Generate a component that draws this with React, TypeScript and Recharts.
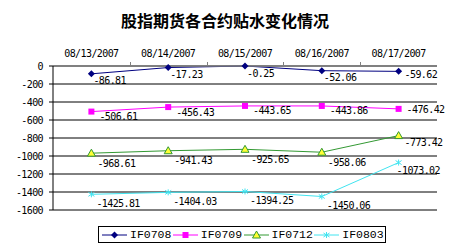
import React from "react";
import * as R from "recharts";
import { LineChart, Line, XAxis, YAxis, CartesianGrid, LabelList } from "recharts";

const dates = ["08/13/2007", "08/14/2007", "08/15/2007", "08/16/2007", "08/17/2007"];
const if0708 = [-86.81, -17.23, -0.25, -52.06, -59.62];
const if0709 = [-506.61, -456.43, -443.65, -443.86, -476.42];
const if0712 = [-968.61, -941.43, -925.65, -958.06, -773.42];
const if0803 = [-1425.81, -1404.03, -1394.25, -1450.06, -1073.02];
const yTicks = [0, -200, -400, -600, -800, -1000, -1200, -1400, -1600];

const data = dates.map((date, i) => ({
  date,
  IF0708: if0708[i],
  IF0709: if0709[i],
  IF0712: if0712[i],
  IF0803: if0803[i],
}));

const MONO = "'DejaVu Sans Mono', monospace";

type Shape = "diamond" | "square" | "triangle" | "star";

const series: {
  key: string;
  color: string;
  shape: Shape;
  dx: number;
  dy: number;
  lastDx: number;
  lastDy: number;
}[] = [
  { key: "IF0708", color: "#000080", shape: "diamond", dx: 2, dy: 7, lastDx: 6, lastDy: 3 },
  { key: "IF0709", color: "#ff00ff", shape: "square", dx: 8, dy: 5, lastDx: 8, lastDy: 1 },
  { key: "IF0712", color: "#339933", shape: "triangle", dx: 6, dy: 10, lastDx: 6, lastDy: 7 },
  { key: "IF0803", color: "#40e4f0", shape: "star", dx: 5, dy: 9, lastDx: -2, lastDy: 8 },
];

function Marker({ shape, x, y, color }: { shape: Shape; x: number; y: number; color: string }) {
  if (shape === "diamond") {
    return <path d={`M${x},${y - 3.5}L${x + 3.5},${y}L${x},${y + 3.5}L${x - 3.5},${y}Z`} fill={color} />;
  }
  if (shape === "square") {
    return <rect x={x - 3} y={y - 3} width={6} height={6} fill={color} />;
  }
  if (shape === "triangle") {
    return (
      <path
        d={`M${x},${y - 4}L${x + 4},${y + 3}L${x - 4},${y + 3}Z`}
        fill="#ffff33"
        stroke={color}
        strokeWidth={1}
      />
    );
  }
  return (
    <g stroke={color} strokeWidth={1}>
      <line x1={x - 3} y1={y - 2} x2={x + 3} y2={y + 2} />
      <line x1={x - 3} y1={y + 2} x2={x + 3} y2={y - 2} />
      <line x1={x} y1={y - 3} x2={x} y2={y + 3} />
    </g>
  );
}

// small marks on the top axis between the date slots
function SlotTicks() {
  const usePlotArea = (R as any).usePlotArea;
  const area = usePlotArea ? usePlotArea() : null;
  if (!area) return null;
  const n = dates.length;
  return (
    <g>
      {dates.slice(1).map((d, i) => {
        const x = Math.round(area.x + (area.width * (i + 1)) / n) + 0.5;
        return <line key={d} x1={x} x2={x} y1={area.y} y2={area.y - 4} stroke="#808080" />;
      })}
    </g>
  );
}

function makeLabel(s: (typeof series)[number]) {
  return (props: any) => {
    const { x, y, value, index } = props;
    if (x == null || y == null) return null;
    const last = index === dates.length - 1;
    return (
      <text
        x={x + (last ? s.lastDx : s.dx)}
        y={y + (last ? s.lastDy : s.dy)}
        dominantBaseline="central"
        textAnchor="start"
        fontFamily={MONO}
        fontSize={10}
        letterSpacing={-0.6}
        fill="#000"
      >
        {Number(value).toFixed(2)}
      </text>
    );
  };
}

function Legend() {
  return (
    <div
      style={{
        position: "absolute",
        left: 98,
        top: 226,
        width: 288,
        height: 17,
        border: "1px solid #000",
        display: "flex",
        alignItems: "center",
        paddingLeft: 3,
        boxSizing: "border-box",
        background: "#fff",
      }}
    >
      {series.map((s) => (
        <div key={s.key} style={{ display: "flex", alignItems: "center", width: 73 }}>
          <svg width={25} height={10}>
            <line x1={0} y1={5} x2={25} y2={5} stroke={s.color} strokeWidth={1} />
            <Marker shape={s.shape} x={12.5} y={5} color={s.color} />
          </svg>
          <span
            style={{
              fontFamily: "'Liberation Mono', monospace",
              fontSize: 11.5,
              marginLeft: 3,
              lineHeight: "12px",
              color: "#000",
            }}
          >
            {s.key}
          </span>
        </div>
      ))}
    </div>
  );
}

export default function App() {
  return (
    <div style={{ position: "absolute", left: 0, top: 0, width: 450, height: 250, background: "#fff" }}>
      <div
        style={{
          position: "absolute",
          left: 0,
          top: 10,
          width: 450,
          textAlign: "center",
          fontFamily: "'Noto Sans CJK SC', sans-serif",
          fontWeight: "bold",
          fontSize: 16,
          lineHeight: "20px",
          color: "#000",
        }}
      >
        股指期货各合约贴水变化情况
      </div>
      <LineChart width={450} height={250} data={data} margin={{ top: 36, right: 13, bottom: 40, left: 0 }}>
        <CartesianGrid vertical={false} stroke="#000" strokeOpacity={1} />
        <XAxis
          dataKey="date"
          orientation="top"
          height={30}
          padding={{ left: 38.4, right: 38.4 }}
          axisLine={{ stroke: "#808080", strokeWidth: 1.5 }}
          tickLine={false}
          tickSize={0}
          tickMargin={9}
          tick={{ fontFamily: MONO, fontSize: 10, fill: "#000", letterSpacing: -0.6 }}
        />
        <YAxis
          domain={[-1600, 0]}
          ticks={yTicks}
          width={53}
          interval={0}
          axisLine={{ stroke: "#000" }}
          tickLine={{ stroke: "#000" }}
          tickSize={4}
          tickMargin={6}
          tick={{ fontFamily: MONO, fontSize: 10, fill: "#000", letterSpacing: -0.6 }}
        />
        <YAxis
          yAxisId="r"
          orientation="right"
          domain={[-1600, 0]}
          width={0}
          tick={false}
          tickLine={false}
          axisLine={{ stroke: "#000" }}
        />
        {series.map((s) => (
          <Line
            key={s.key}
            dataKey={s.key}
            stroke={s.color}
            strokeWidth={1}
            isAnimationActive={false}
            dot={(p: any) => <Marker key={`${s.key}-${p.index}`} shape={s.shape} x={p.cx} y={p.cy} color={s.color} />}
            activeDot={false}
          >
            <LabelList dataKey={s.key} content={makeLabel(s)} />
          </Line>
        ))}
        <SlotTicks />
      </LineChart>
      <Legend />
    </div>
  );
}
